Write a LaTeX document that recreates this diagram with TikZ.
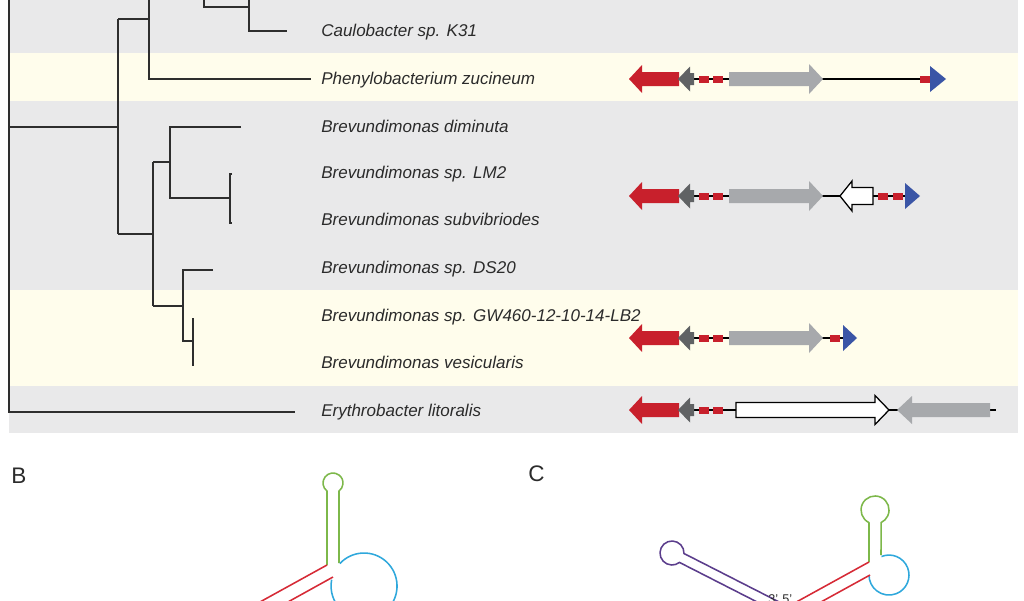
\documentclass[tikz,border=0pt]{standalone}
\usepackage{fontspec}
\setmainfont{Liberation Sans}
\usepackage{tikz}
\usetikzlibrary{positioning}
\definecolor{RowGray}  {HTML}{E9E9EA}
\definecolor{RowCream} {HTML}{FFFDEC}
\definecolor{TreeInk}  {HTML}{2E2E2E}
\definecolor{TextInk}  {HTML}{2B2B2B}
\definecolor{GeneRed}  {HTML}{C8202C}
\definecolor{GeneDark} {HTML}{606264}
\definecolor{GeneLight}{HTML}{A7A9AC}
\definecolor{GeneBlue} {HTML}{3A55A6}
\definecolor{RnaGreen} {HTML}{7DB84A}
\definecolor{RnaBlue}  {HTML}{2FA8DC}
\definecolor{RnaRed}   {HTML}{D62A36}
\definecolor{RnaPurple}{HTML}{5B3D8C}
% gene arrow: options, row y, back x, head base x, tip x, body half, head half
\newcommand{\genearrow}[7]{%
  \path[#1] (#3,{-(#2)+#6}) -- (#4,{-(#2)+#6}) -- (#4,{-(#2)+#7}) -- (#5,-#2)
    -- (#4,{-(#2)-#7}) -- (#4,{-(#2)-#6}) -- (#3,{-(#2)-#6}) -- cycle;}
% small red box on the backbone
\newcommand{\genebox}[2]{\fill[GeneRed] (#2,{-(#1)+3.5}) rectangle ({#2+10},{-(#1)-3.5});}
\tikzset{
  branch/.style={draw=TreeInk,line width=1.4pt},
  taxon/.style={font=\fontsize{12.1}{14}\selectfont\itshape,text=TextInk,anchor=base west,inner sep=0pt},
  backbone/.style={draw=black,line width=0.8pt},
  panel/.style={font=\fontsize{16}{18}\selectfont,text=TextInk,inner sep=0pt},
  rna/.style={line width=1.1pt,line join=round},
}

\begin{document}
\begin{tikzpicture}[x=0.025cm,y=0.025cm]
  \useasboundingbox (0,0) rectangle (1024,-600);
  \clip (0,0) rectangle (1024,-600);
  \fill[white] (0,0) rectangle (1024,-600);

  % row bands
  \fill[RowGray]  (9,0)    rectangle (1018,-53);
  \fill[RowCream] (9,-53)  rectangle (1018,-101);
  \fill[RowGray]  (9,-101) rectangle (1018,-290);
  \fill[RowCream] (9,-290) rectangle (1018,-386);
  \fill[RowGray]  (9,-386) rectangle (1018,-433);

  % tree
  \draw[branch] (9,0) -- (9,-412) -- (295,-412);
  \draw[branch] (9,-127) -- (118,-127);
  \draw[branch] (118,-19) -- (118,-234);
  \draw[branch] (118,-19) -- (149,-19);
  \draw[branch] (149,0) -- (149,-79) -- (311,-79);
  \draw[branch] (204,0) -- (204,-7) -- (249,-7);
  \draw[branch] (249,0) -- (249,-31) -- (287,-31);
  \draw[branch] (118,-234) -- (153,-234);
  \draw[branch] (153,-162) -- (153,-306);
  \draw[branch] (153,-162) -- (170,-162);
  \draw[branch] (241,-127) -- (170,-127) -- (170,-198) -- (230,-198);
  \draw[branch] (232,-174) -- (230,-174) -- (230,-223) -- (232,-223);
  \draw[branch] (153,-306) -- (183,-306);
  \draw[branch] (213,-270) -- (183,-270) -- (183,-341) -- (193,-341);
  \draw[branch] (193,-318) -- (193,-366);

  % taxa
  \node[taxon] (caulo) at (321,-36)  {Caulobacter sp. K31};
  \node[taxon] (pheny) at (321,-84)  {Phenylobacterium zucineum};
  \node[taxon] (bdimi) at (321,-132) {Brevundimonas diminuta};
  \node[taxon] (blm)   at (321,-178) {Brevundimonas sp. LM2};
  \node[taxon] (bsub)  at (321,-225) {Brevundimonas subvibriodes};
  \node[taxon] (bds)   at (321,-273) {Brevundimonas sp. DS20};
  \node[taxon] (bgw)   at (321,-321) {Brevundimonas sp. GW460-12-10-14-LB2};
  \node[taxon] (bves)  at (321,-368) {Brevundimonas vesicularis};
  \node[taxon] (eryth) at (321,-416) {Erythrobacter litoralis};

  % locus: Phenylobacterium
  \draw[backbone] (679,-79) -- (940,-79);
  \genearrow{fill=GeneRed}{79}{679}{642}{629}{7}{14}
  \genearrow{fill=GeneDark}{79}{694}{690}{678}{6}{12.5}
  \genebox{79}{699} \genebox{79}{713}
  \genearrow{fill=GeneLight}{79}{729}{809}{823}{7}{15}
  \genebox{79}{920}
  \genearrow{fill=GeneBlue}{79}{930}{930}{946}{0}{13}

  % locus: Brevundimonas LM2 / subvibriodes
  \draw[backbone] (679,-196) -- (912,-196);
  \genearrow{fill=GeneRed}{196}{679}{642}{629}{7}{14}
  \genearrow{fill=GeneDark}{196}{694}{690}{678}{6}{12.5}
  \genebox{196}{699} \genebox{196}{713}
  \genearrow{fill=GeneLight}{196}{729}{809}{823}{7}{15}
  \genearrow{fill=white,draw=black,line width=0.9pt,line join=miter}{196}{873}{852}{840}{8.5}{15}
  \genebox{196}{878} \genebox{196}{893}
  \genearrow{fill=GeneBlue}{196}{905}{905}{920}{0}{13}

  % locus: Brevundimonas GW460 / vesicularis
  \draw[backbone] (679,-338) -- (848,-338);
  \genearrow{fill=GeneRed}{338}{679}{642}{629}{7}{14}
  \genearrow{fill=GeneDark}{338}{694}{690}{678}{6}{12.5}
  \genebox{338}{699} \genebox{338}{713}
  \genearrow{fill=GeneLight}{338}{729}{809}{823}{7}{15}
  \genebox{338}{830}
  \genearrow{fill=GeneBlue}{338}{843}{843}{857}{0}{13}

  % locus: Erythrobacter
  \draw[backbone] (679,-410) -- (996,-410);
  \genearrow{fill=GeneRed}{410}{679}{642}{629}{7}{14}
  \genearrow{fill=GeneDark}{410}{694}{690}{678}{6}{12.5}
  \genebox{410}{699} \genebox{410}{713}
  \genearrow{fill=white,draw=black,line width=0.9pt,line join=miter}{410}{736}{875}{889}{7.5}{14.5}
  \genearrow{fill=GeneLight}{410}{990}{912}{897}{7}{14}

  % panel B
  \node[panel] (labB) at (19,-476) {B};
  \draw[rna,RnaGreen] (327,-565) -- (327,-491) arc[start angle=233.13,end angle=-53.13,radius=10] -- (339,-563);
  \draw[rna,RnaBlue] (339.9,-563.5) arc[start angle=137,end angle=-191,radius=33];
  \draw[rna,RnaRed] (327,-565) -- (220,-624);
  \draw[rna,RnaRed] (333,-577) -- (250,-623);

  % panel C
  \node[panel] (labC) at (536.5,-474) {C};
  \draw[rna,RnaGreen] (869,-562) -- (869,-522.6) arc[start angle=244.5,end angle=-64.5,radius=14] -- (881,-555);
  \draw[rna,RnaBlue] (881.5,-556.5) arc[start angle=112,end angle=-180,radius=20];
  \draw[rna,RnaRed] (869,-562) -- (760,-622);
  \draw[rna,RnaRed] (870,-575) -- (780,-624.5);
  \begin{scope}[shift={(672,-553)},rotate=-27]
    \draw[rna,RnaPurple] (150,5) -- (10.9,5) arc[start angle=24.6,end angle=335.4,radius=12] -- (150,-5);
  \end{scope}
  \node[font=\fontsize{9}{10}\selectfont,text=TextInk,anchor=north west,inner sep=0pt] (ends) at (768,-594) {3'\,\,5'};
\end{tikzpicture}
\end{document}
